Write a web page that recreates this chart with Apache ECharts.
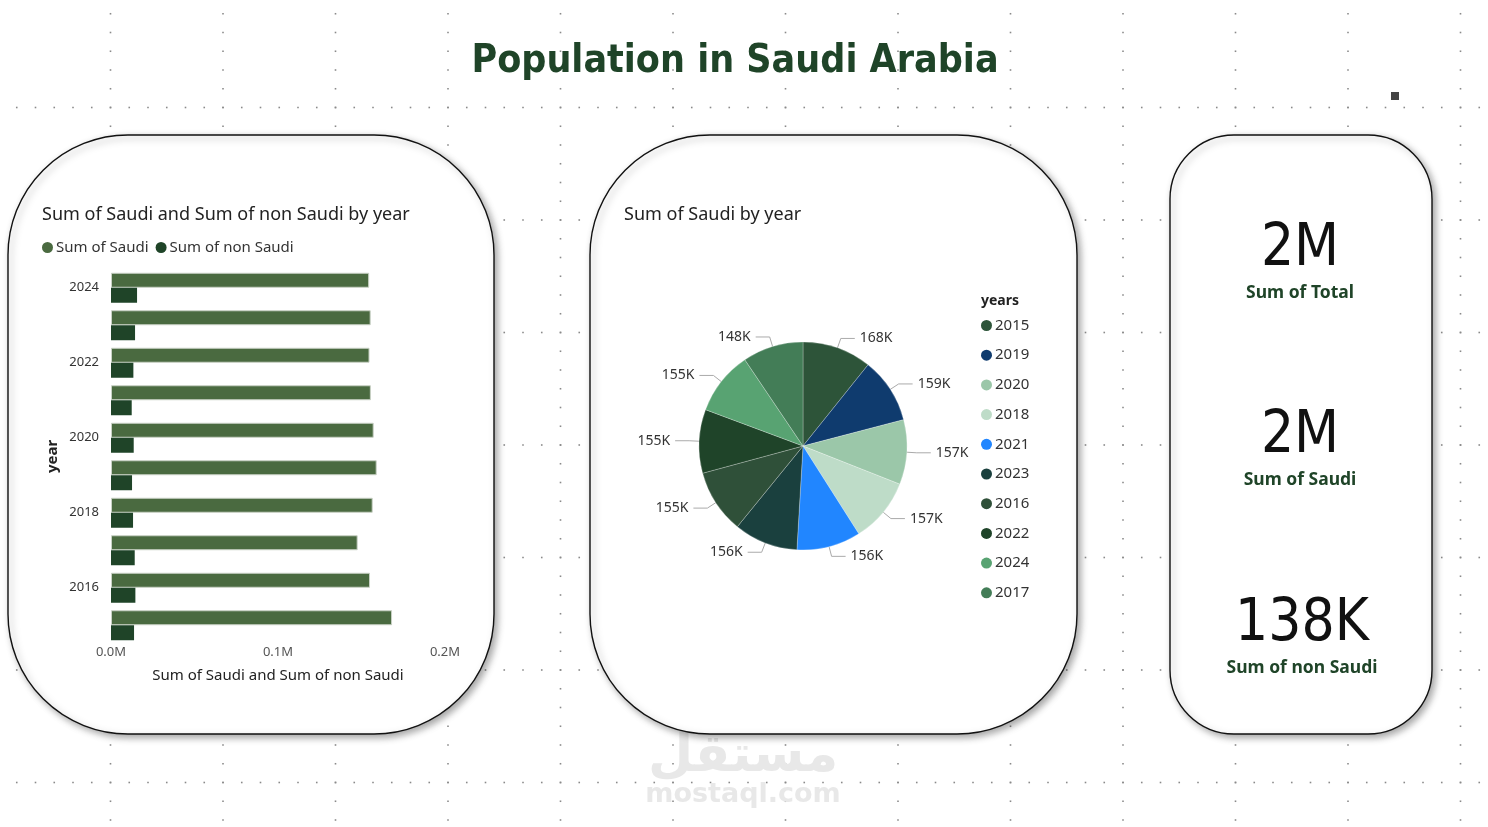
<!DOCTYPE html>
<html>
<head>
<meta charset="utf-8">
<script src="https://cdn.jsdelivr.net/npm/echarts@6/dist/echarts.min.js"></script>
<style>
  html, body { margin: 0; padding: 0; background: #fff; }
  #main { width: 1488px; height: 827px; }
</style>
</head>
<body>
<div id="main"></div>
<script>
// data
const years = ['2015', '2016', '2017', '2018', '2019', '2020', '2021', '2022', '2023', '2024'];
const saudi = [168300, 155100, 147700, 156700, 159100, 157300, 155600, 154800, 155500, 154600];
const nonSaudi = [13800, 14600, 14200, 13200, 12600, 13600, 12400, 13400, 14400, 15600];
const xTicks = [0, 100000, 200000];

// pie slice colours, same order as years
const yearColors = ['#2D5439', '#2F5039', '#437D57', '#BEDCC8', '#0F3B6E', '#9BC7A9', '#2186FF', '#1F4429', '#1A403E', '#58A372'];

const GREEN = '#1F4428';
const SAUDI_GREEN = '#4A6A40';
const UI_FONT = 'Noto Sans';
const DIN_FONT = 'DejaVu Sans Condensed';

const sum = arr => arr.reduce((a, b) => a + b, 0);
const fmt = v => v >= 1e6 ? Math.round(v / 1e6) + 'M' : Math.round(v / 1e3) + 'K';

// bar chart categories top-down (2024 first)
const barYears = years.slice().reverse();
const barSaudi = saudi.slice().reverse();
const barNon = nonSaudi.slice().reverse();

// pie sorted by value, biggest first
const pieData = years.map((y, i) => ({ name: y, value: saudi[i], itemStyle: { color: yearColors[i] } }))
  .sort((a, b) => b.value - a.value);

// power bi canvas dots
const dots = [];
for (let k = 1; k <= 13; k++) {
  const x = -2 + 112.5 * k;
  for (let y = -5 + 18.75; y < 827; y += 18.75) dots.push({ type: 'rect', shape: { x: x - 0.8, y: y - 0.8, width: 1.6, height: 1.6 }, style: { fill: '#8a8a8a' }, z: -10, silent: true });
}
for (let k = 1; k <= 7; k++) {
  const y = -5 + 112.5 * k;
  for (let x = -2 + 18.75; x < 1488; x += 18.75) dots.push({ type: 'rect', shape: { x: x - 0.8, y: y - 0.8, width: 1.6, height: 1.6 }, style: { fill: '#8a8a8a' }, z: -10, silent: true });
}

function card(x, y, w, h, r) {
  return {
    type: 'rect', z: -5, silent: true,
    shape: { x: x, y: y, width: w, height: h, r: r },
    style: { fill: '#fff', stroke: '#111', lineWidth: 1.4, shadowColor: 'rgba(0,0,0,0.35)', shadowBlur: 7, shadowOffsetX: 3, shadowOffsetY: 3 }
  };
}

function kpi(cx, y, value, label) {
  return [
    { type: 'text', z: 5, style: { x: cx, y: y + 5, text: value, fill: '#111', font: '58px "' + DIN_FONT + '"', textAlign: 'center', textVerticalAlign: 'middle' } },
    { type: 'text', z: 5, style: { x: cx, y: y + 48, text: label, fill: GREEN, font: 'bold 17.5px "' + UI_FONT + '"', textAlign: 'center', textVerticalAlign: 'middle' } }
  ];
}

const chart = echarts.init(document.getElementById('main'));

const option = {
  backgroundColor: '#fff',
  animation: false,
  textStyle: { fontFamily: UI_FONT },
  title: [
    { text: 'Population in Saudi Arabia', left: 730, top: 37, textAlign: 'center',
      textStyle: { fontFamily: DIN_FONT, fontWeight: 'bold', fontSize: 39, color: GREEN } },
    { text: 'Sum of Saudi and Sum of non Saudi by year', left: 37, top: 201,
      textStyle: { fontFamily: UI_FONT, fontWeight: 'normal', fontSize: 18, color: '#222' } },
    { text: 'Sum of Saudi by year', left: 619, top: 201,
      textStyle: { fontFamily: UI_FONT, fontWeight: 'normal', fontSize: 18, color: '#222' } },
    { text: 'years', left: 976, top: 289,
      textStyle: { fontFamily: UI_FONT, fontWeight: 'bold', fontSize: 14, color: '#222' } }
  ],
  legend: [
    { data: ['Sum of Saudi', 'Sum of non Saudi'], left: 37, top: 235, orient: 'horizontal',
      icon: 'circle', itemWidth: 11, itemHeight: 11, itemGap: 7,
      itemStyle: { borderWidth: 0 },
      textStyle: { fontFamily: UI_FONT, fontSize: 15, color: '#333', padding: [0, 0, 0, -2] } },
    { data: pieData.map(d => d.name), left: 976, top: 313, orient: 'vertical',
      icon: 'circle', itemWidth: 11, itemHeight: 11, itemGap: 14.7,
      itemStyle: { borderWidth: 0 },
      textStyle: { fontFamily: UI_FONT, fontSize: 15, color: '#333', padding: [0, 0, 0, -2] } }
  ],
  grid: { left: 111, top: 269, width: 334, height: 375 },
  xAxis: {
    type: 'value', min: xTicks[0], max: xTicks[xTicks.length - 1], interval: xTicks[1] - xTicks[0],
    axisLine: { show: false }, axisTick: { show: false }, splitLine: { show: false },
    axisLabel: { formatter: v => (v / 1e6).toFixed(1) + 'M', fontSize: 13, color: '#555', margin: 2 },
    name: 'Sum of Saudi and Sum of non Saudi', nameLocation: 'middle', nameGap: 24,
    nameTextStyle: { fontSize: 15, color: '#222' }
  },
  yAxis: {
    type: 'category', data: barYears, inverse: true,
    axisLine: { show: false }, axisTick: { show: false },
    axisLabel: { interval: 1, fontSize: 13, color: '#333', margin: 12 },
    name: 'year', nameLocation: 'middle', nameGap: 51, nameRotate: 90,
    nameTextStyle: { fontSize: 15, fontWeight: 'bold', color: '#222' }
  },
  series: [
    { name: 'Sum of Saudi', type: 'bar', data: barSaudi, barGap: '0%', barCategoryGap: '20%',
      itemStyle: { color: SAUDI_GREEN, borderColor: '#c9d1c5', borderWidth: 1 } },
    { name: 'Sum of non Saudi', type: 'bar', data: barNon,
      itemStyle: { color: GREEN } },
    { name: 'Sum of Saudi by year', type: 'pie', center: [803, 446], radius: 104,
      startAngle: 90, clockwise: true, data: pieData,
      itemStyle: { borderColor: 'rgba(255,255,255,0.5)', borderWidth: 0.5 },
      label: { formatter: p => Math.round(p.value / 1000) + 'K', fontSize: 14, color: '#333', fontFamily: UI_FONT },
      labelLine: { length: 10, length2: 14, lineStyle: { color: '#aaa', width: 1 } } }
  ],
  graphic: [].concat(
    dots,
    [card(8, 135, 486, 599, 120), card(590, 135, 487, 599, 120), card(1170, 135, 262, 599, 64)],
    kpi(1300, 245, fmt(sum(saudi) + sum(nonSaudi)), 'Sum of Total'),
    kpi(1300, 432, fmt(sum(saudi)), 'Sum of Saudi'),
    kpi(1302, 620, fmt(sum(nonSaudi)), 'Sum of non Saudi'),
    [
      { type: 'rect', z: 5, shape: { x: 1391, y: 92, width: 8, height: 8 }, style: { fill: '#444' } },
      { type: 'text', z: -6, style: { x: 743, y: 757, text: 'مستقل', fill: '#e8e8e8', font: 'bold 52px "DejaVu Sans"', textAlign: 'center', textVerticalAlign: 'middle' } },
      { type: 'text', z: -6, style: { x: 743, y: 795, text: 'mostaql.com', fill: '#e8e8e8', font: 'bold 27px "DejaVu Sans"', textAlign: 'center', textVerticalAlign: 'middle' } }
    ]
  )
};

chart.setOption(option);
</script>
</body>
</html>
